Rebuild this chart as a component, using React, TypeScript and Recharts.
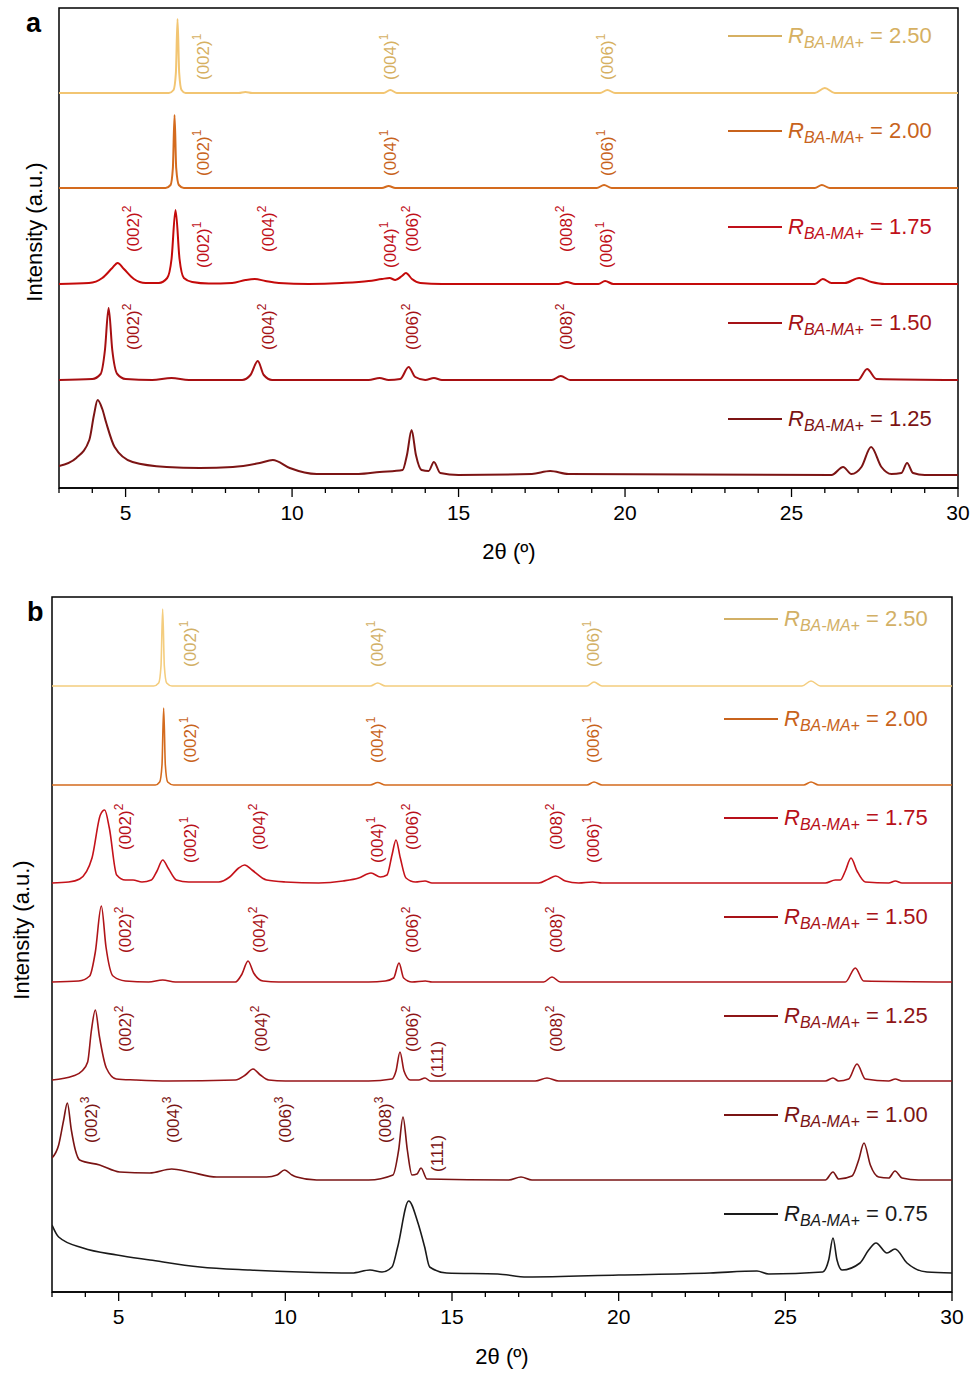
import React from "react";
import { LineChart, Line, XAxis, YAxis, ReferenceArea, ReferenceDot } from "recharts";

const FONT = '"Liberation Sans", Arial, Helvetica, sans-serif';

// x axis: 2θ in degrees
const xTicks = [3, 4, 5, 6, 7, 8, 9, 10, 11, 12, 13, 14, 15, 16, 17, 18, 19, 20, 21, 22, 23, 24, 25, 26, 27, 28, 29, 30];
const labeledTicks = [5, 10, 15, 20, 25, 30];

// ratios shown in the legends
const ratiosA = ["2.50", "2.00", "1.75", "1.50", "1.25"];
const ratiosB = ["2.50", "2.00", "1.75", "1.50", "1.25", "1.00", "0.75"];

// vertical stacking offsets (a.u.)
const offsetsA = [395, 300, 204, 108, 13];
const offsetsB = [606, 507, 409, 310, 211, 112, 17];

// ---- panel a patterns: [2θ, intensity above own baseline] ----
const a250: [number, number][] = [
  [3, 0], [6.3, 0], [6.44, 3], [6.51, 20], [6.56, 74], [6.61, 20], [6.68, 3], [6.8, 0], [8.4, 0], [8.6, 1], [8.8, 0],
  [12.75, 0], [12.95, 3], [13.15, 0], [19.25, 0], [19.47, 3], [19.7, 0], [25.7, 0], [26.0, 5], [26.3, 0], [30, 0],
];
const a200: [number, number][] = [
  [3, 0], [6.2, 0], [6.35, 3], [6.42, 20], [6.47, 73], [6.52, 20], [6.6, 3], [6.75, 0], [12.7, 0], [12.9, 2], [13.1, 0],
  [19.15, 0], [19.37, 3], [19.6, 0], [25.7, 0], [25.91, 3], [26.15, 0], [30, 0],
];
const a175: [number, number][] = [
  [3, 0], [3.9, 1], [4.3, 6], [4.6, 16], [4.76, 21], [4.95, 15], [5.25, 5], [5.6, 1], [6.0, 1], [6.25, 6], [6.38, 25],
  [6.5, 74], [6.62, 25], [6.75, 6], [7.0, 2], [7.5, 0.5], [8.2, 1], [8.6, 4], [8.88, 5], [9.2, 3], [9.6, 1], [10.5, 0],
  [11.5, 1], [12.3, 3], [12.7, 5], [12.93, 6], [13.1, 4], [13.3, 8], [13.42, 11], [13.6, 5], [13.85, 1], [14.5, 0],
  [18.0, 0], [18.25, 2], [18.5, 0], [19.2, 0], [19.4, 3], [19.65, 0], [25.7, 0], [25.94, 5], [26.2, 1], [26.6, 1],
  [27.03, 6], [27.4, 2], [27.8, 0], [30, 0],
];
const a150: [number, number][] = [
  [3, 0], [4.0, 1], [4.25, 6], [4.38, 30], [4.49, 72], [4.6, 30], [4.75, 6], [5.0, 1], [5.8, 0], [6.38, 2], [6.9, 0],
  [8.5, 0], [8.75, 5], [8.97, 19], [9.15, 5], [9.4, 0], [12.3, 0], [12.63, 2], [12.9, 0], [13.25, 1], [13.5, 13],
  [13.7, 3], [14.0, 0], [14.26, 2], [14.5, 0], [17.8, 0], [18.07, 4], [18.35, 0], [27.0, 0], [27.27, 11], [27.55, 1], [30, 0],
];
const a125: [number, number][] = [
  [3, 9], [3.52, 17], [3.91, 35], [4.05, 60], [4.16, 75], [4.3, 66], [4.42, 52], [4.67, 28], [5.21, 13], [6.23, 8],
  [7.23, 7], [8.22, 8], [9.03, 12], [9.42, 15], [9.93, 7], [10.74, 1], [12.0, 1], [12.63, 3], [13.32, 5], [13.45, 20],
  [13.59, 45], [13.72, 20], [13.89, 5], [14.1, 4], [14.26, 13], [14.45, 2], [15, 0], [17.2, 1], [17.75, 4], [18.3, 1],
  [26.2, 0], [26.55, 8], [26.8, 1], [27.1, 8], [27.39, 28], [27.7, 8], [28.0, 1], [28.3, 2], [28.47, 12], [28.65, 2],
  [29, 0], [30, 0],
];

// ---- panel b patterns ----
const b250: [number, number][] = [
  [3, 0], [6.05, 0], [6.2, 3], [6.27, 20], [6.32, 77], [6.37, 20], [6.44, 3], [6.6, 0], [12.55, 0], [12.77, 3], [13.0, 0],
  [19.05, 0], [19.26, 4], [19.5, 0], [25.5, 0], [25.77, 5], [26.05, 0], [30, 0],
];
const b200: [number, number][] = [
  [3, 0], [6.1, 0], [6.23, 3], [6.3, 20], [6.35, 77], [6.4, 20], [6.47, 3], [6.65, 0], [12.55, 0], [12.77, 2.5], [13.0, 0],
  [19.05, 0], [19.26, 3], [19.5, 0], [25.55, 0], [25.77, 3], [26.0, 0], [30, 0],
];
const b175: [number, number][] = [
  [3, 0], [3.5, 1], [3.83, 4], [4.2, 25], [4.45, 68], [4.58, 73], [4.72, 55], [4.94, 8], [5.2, 3], [5.43, 3], [5.7, 1],
  [5.98, 3], [6.15, 12], [6.32, 23], [6.5, 14], [6.73, 3], [7.1, 1], [8.0, 1], [8.33, 6], [8.6, 15], [8.78, 18], [9.0, 13],
  [9.44, 3], [10, 1], [11, 0], [11.73, 2], [12.2, 5], [12.57, 10], [12.85, 6], [13.05, 8], [13.2, 28], [13.32, 43],
  [13.45, 25], [13.62, 5], [13.9, 1], [14.19, 2], [14.4, 0], [17.6, 0], [17.9, 4], [18.11, 7], [18.4, 2], [18.8, 0],
  [19.22, 1], [19.5, 0], [26.2, 0], [26.5, 3], [26.65, 3], [26.8, 12], [26.97, 25], [27.15, 12], [27.4, 1], [28.1, 0],
  [28.3, 2], [28.5, 0], [30, 0],
];
const b150: [number, number][] = [
  [3, 0], [3.8, 1], [4.13, 6], [4.3, 30], [4.48, 76], [4.62, 35], [4.83, 6], [5.2, 1], [5.9, 0], [6.32, 2], [6.7, 0],
  [8.5, 0], [8.7, 8], [8.88, 21], [9.05, 9], [9.33, 1], [9.8, 0], [12.5, 0], [13.0, 1], [13.25, 4], [13.41, 19],
  [13.55, 4], [13.8, 0], [14.2, 1], [14.4, 0], [17.75, 0], [18.0, 5], [18.25, 0], [26.8, 0], [27.1, 14], [27.35, 1], [30, 0],
];
const b125: [number, number][] = [
  [3, 1], [3.63, 5], [3.9, 10], [4.07, 19], [4.18, 50], [4.3, 71], [4.42, 45], [4.63, 13], [4.93, 2], [5.5, 1], [6.5, 0],
  [8.5, 1], [8.8, 6], [9.03, 12], [9.25, 6], [9.5, 1], [10, 0], [12.5, 0], [13.2, 2], [13.32, 10], [13.44, 29],
  [13.56, 10], [13.75, 1], [14.0, 1], [14.19, 3], [14.35, 0], [17.5, 0], [17.85, 3], [18.2, 0], [26.2, 0], [26.43, 3],
  [26.6, 0], [26.9, 2], [27.15, 17], [27.4, 2], [28.1, 0], [28.3, 2], [28.5, 0], [30, 0],
];
const b100: [number, number][] = [
  [3, 22], [3.2, 35], [3.35, 60], [3.46, 77], [3.58, 50], [3.7, 30], [3.83, 20], [4.43, 15], [5.03, 8], [5.93, 7],
  [6.59, 11], [7.13, 8], [7.94, 3], [9.44, 3], [9.75, 5], [9.98, 10], [10.2, 5], [10.34, 3], [10.94, 0], [12.5, 0],
  [13.23, 5], [13.4, 30], [13.53, 63], [13.66, 30], [13.8, 5], [13.95, 6], [14.07, 12], [14.25, 1], [16.7, 0],
  [17.07, 3], [17.4, 0], [26.2, 0], [26.43, 8], [26.6, 1], [27.0, 4], [27.2, 20], [27.36, 37], [27.55, 15], [27.8, 3],
  [28.1, 2], [28.29, 9], [28.5, 2], [29, 0], [30, 0],
];
const b075: [number, number][] = [
  [3, 50], [3.2, 38], [3.93, 27], [4.95, 20], [5.94, 15], [7.44, 8], [8.94, 5], [10.44, 3], [12.0, 2], [12.54, 5],
  [12.9, 3], [13.2, 8], [13.37, 28], [13.7, 74], [13.97, 53], [14.18, 28], [14.33, 8], [14.84, 2], [16.37, 1],
  [17.25, -2], [20, 0], [22.74, 2], [24.15, 4], [24.5, 1], [26.12, 3], [26.3, 15], [26.43, 37], [26.55, 15], [26.7, 5],
  [27.24, 12], [27.5, 25], [27.72, 32], [28.05, 22], [28.29, 26], [28.65, 12], [29.25, 3], [30, 2],
];

// peak assignments: [series index, hkl, superscript, 2θ, height (a.u.)]
const peaksA: [number, string, string, number, number][] = [
  [0, "(002)", "1", 7.31, 408], [0, "(004)", "1", 12.95, 408], [0, "(006)", "1", 19.45, 408],
  [1, "(002)", "1", 7.31, 312], [1, "(004)", "1", 12.95, 312], [1, "(006)", "1", 19.45, 312],
  [2, "(002)", "2", 5.21, 236], [2, "(002)", "1", 7.31, 220], [2, "(004)", "2", 9.27, 236], [2, "(004)", "1", 12.93, 220],
  [2, "(006)", "2", 13.6, 236], [2, "(008)", "2", 18.22, 236], [2, "(006)", "1", 19.42, 220],
  [3, "(002)", "2", 5.21, 138], [3, "(004)", "2", 9.27, 138], [3, "(006)", "2", 13.6, 138], [3, "(008)", "2", 18.22, 138],
];
const peaksB: [number, string, string, number, number][] = [
  [0, "(002)", "1", 7.13, 625], [0, "(004)", "1", 12.74, 625], [0, "(006)", "1", 19.22, 625],
  [1, "(002)", "1", 7.13, 529], [1, "(004)", "1", 12.74, 529], [1, "(006)", "1", 19.22, 529],
  [2, "(002)", "2", 5.18, 442], [2, "(002)", "1", 7.13, 429], [2, "(004)", "2", 9.2, 442], [2, "(004)", "1", 12.74, 429],
  [2, "(006)", "2", 13.79, 442], [2, "(008)", "2", 18.11, 442], [2, "(006)", "1", 19.22, 429],
  [3, "(002)", "2", 5.18, 339], [3, "(004)", "2", 9.2, 339], [3, "(006)", "2", 13.79, 339], [3, "(008)", "2", 18.11, 339],
  [4, "(002)", "2", 5.18, 240], [4, "(004)", "2", 9.26, 240], [4, "(006)", "2", 13.79, 240], [4, "(111)", "", 14.54, 214],
  [4, "(008)", "2", 18.11, 240],
  [5, "(002)", "3", 4.16, 149], [5, "(004)", "3", 6.62, 149], [5, "(006)", "3", 9.98, 149], [5, "(008)", "3", 12.98, 149],
  [5, "(111)", "", 14.54, 120],
];

const colorsA = ["#F2C572", "#D46B1E", "#C40A0A", "#A70F12", "#7C1414"];
const colorsB = ["#F4CD7E", "#D46B1E", "#C5121A", "#B01418", "#971518", "#7A1414", "#1A1A1A"];
const labelColorsA = ["#D6B062", "#C8631C", "#C0101A", "#A51216", "#7C1414"];
const labelColorsB = ["#D2B066", "#C8631C", "#B8101A", "#A81218", "#8E1517", "#7A1414", "#1A1A1A"];

const toRows = (pts: [number, number][], off: number) => pts.map(([x, h]) => ({ x, y: off + h }));

const AxisTick = (props: any) => {
  const { x, y, payload } = props;
  const major = labeledTicks.includes(payload.value);
  return (
    <g>
      <line x1={x} x2={x} y1={y} y2={y + (major ? 9 : 5)} stroke="#000" strokeWidth={1.3} />
      {major && (
        <text x={x} y={y + 32} textAnchor="middle" fontSize={21} fontFamily={FONT} fill="#000">
          {payload.value}
        </text>
      )}
    </g>
  );
};

const peakShape = (hkl: string, sup: string, color: string) => (p: any) => (
  <text
    x={p.cx}
    y={p.cy}
    transform={`rotate(-90 ${p.cx} ${p.cy})`}
    dy="0.36em"
    fontSize={17}
    fontFamily={FONT}
    fill={color}
  >
    {hkl}
    {sup && (
      <tspan fontSize={12} dy={-8}>
        {sup}
      </tspan>
    )}
  </text>
);

interface PanelProps {
  top: number;
  height: number;
  margin: { top: number; right: number; left: number; bottom: number };
  axisHeight: number;
  yMax: number;
  traces: [number, number][][];
  offsets: number[];
  colors: string[];
  labelColors: string[];
  peaks: [number, string, string, number, number][];
  strokeWidth: number;
}

function Panel({ top, height, margin, axisHeight, yMax, traces, offsets, colors, labelColors, peaks, strokeWidth }: PanelProps) {
  return (
    <div style={{ position: "absolute", left: 0, top }}>
      <LineChart width={975} height={height} margin={margin}>
        <XAxis
          dataKey="x"
          type="number"
          domain={[3, 30]}
          ticks={xTicks}
          interval={0}
          allowDataOverflow
          height={axisHeight}
          tickSize={0}
          tickMargin={0}
          tickLine={false}
          axisLine={{ stroke: "#000", strokeWidth: 1.5 }}
          tick={<AxisTick />}
        />
        <YAxis type="number" domain={[0, yMax]} hide allowDataOverflow />
        <ReferenceArea x1={3} x2={30} y1={0} y2={yMax} fill="none" stroke="#000" strokeWidth={1.5} fillOpacity={0} />
        {traces.map((pts, i) => (
          <Line
            key={i}
            data={toRows(pts, offsets[i])}
            dataKey="y"
            type="monotone"
            stroke={colors[i]}
            strokeWidth={strokeWidth}
            dot={false}
            isAnimationActive={false}
          />
        ))}
        {peaks.map(([s, hkl, sup, x, y], i) => (
          <ReferenceDot key={`p${i}`} x={x} y={y} r={0} shape={peakShape(hkl, sup, labelColors[s])} />
        ))}
      </LineChart>
    </div>
  );
}

function LegendRow({ left, y, color, ratio }: { left: number; y: number; color: string; ratio: string }) {
  return (
    <div
      style={{
        position: "absolute",
        left,
        top: y - 14,
        height: 28,
        display: "flex",
        alignItems: "center",
        fontFamily: FONT,
        color,
        whiteSpace: "pre",
        lineHeight: 1,
      }}
    >
      <div style={{ width: 54, height: 2, background: color, marginRight: 6 }} />
      <span style={{ fontSize: 22, fontStyle: "italic" }}>R</span>
      <span style={{ fontSize: 16, fontStyle: "italic", position: "relative", top: 7 }}>BA-MA+</span>
      <span style={{ fontSize: 22 }}> = {ratio}</span>
    </div>
  );
}

const textStyle: React.CSSProperties = { position: "absolute", fontFamily: FONT, color: "#000", whiteSpace: "nowrap", lineHeight: 1 };

export default function App() {
  const legendYA = [36, 131, 227, 323, 419];
  const legendYB = [619, 719, 818, 917, 1016, 1115, 1214];
  return (
    <div style={{ position: "absolute", left: 0, top: 0, width: 975, height: 1374, background: "#fff", overflow: "hidden" }}>
      <Panel
        top={0}
        height={580}
        margin={{ top: 8, right: 17, left: 59, bottom: 0 }}
        axisHeight={92}
        yMax={480}
        traces={[a250, a200, a175, a150, a125]}
        offsets={offsetsA}
        colors={colorsA}
        labelColors={labelColorsA}
        peaks={peaksA}
        strokeWidth={2}
      />
      <Panel
        top={590}
        height={784}
        margin={{ top: 7, right: 23, left: 52, bottom: 0 }}
        axisHeight={82}
        yMax={695}
        traces={[b250, b200, b175, b150, b125, b100, b075]}
        offsets={offsetsB}
        colors={colorsB}
        labelColors={labelColorsB}
        peaks={peaksB}
        strokeWidth={1.6}
      />
      {ratiosA.map((r, i) => (
        <LegendRow key={`la${i}`} left={728} y={legendYA[i]} color={labelColorsA[i]} ratio={r} />
      ))}
      {ratiosB.map((r, i) => (
        <LegendRow key={`lb${i}`} left={724} y={legendYB[i]} color={labelColorsB[i]} ratio={r} />
      ))}
      <div style={{ ...textStyle, left: 26, top: 10, fontSize: 27, fontWeight: 700 }}>a</div>
      <div style={{ ...textStyle, left: 27, top: 599, fontSize: 27, fontWeight: 700 }}>b</div>
      <div style={{ ...textStyle, left: 35, top: 232, fontSize: 22, transform: "translate(-50%, -50%) rotate(-90deg)" }}>
        Intensity (a.u.)
      </div>
      <div style={{ ...textStyle, left: 22, top: 930, fontSize: 22, transform: "translate(-50%, -50%) rotate(-90deg)" }}>
        Intensity (a.u.)
      </div>
      <div style={{ ...textStyle, left: 509, top: 552, fontSize: 22, transform: "translate(-50%, -50%)" }}>2θ (º)</div>
      <div style={{ ...textStyle, left: 502, top: 1357, fontSize: 22, transform: "translate(-50%, -50%)" }}>2θ (º)</div>
    </div>
  );
}
